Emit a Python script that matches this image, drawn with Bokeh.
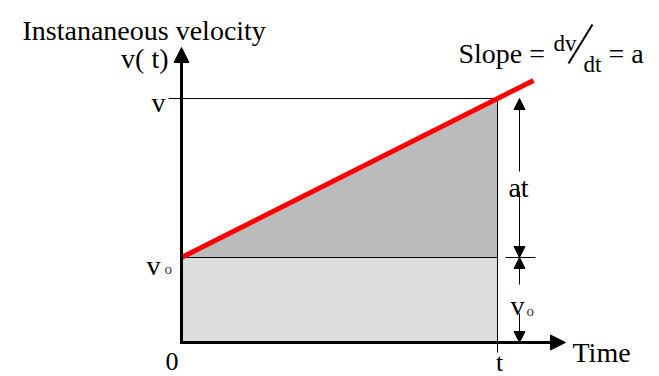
from bokeh.plotting import figure
from bokeh.models import Range1d, Arrow, NormalHead, Label
from bokeh.embed import file_html
from bokeh.resources import INLINE

# ---- data (uniform acceleration) ----
t_end = 1.0          # time t
v0 = 1.0             # initial velocity
a = 1.87             # acceleration (slope)
v_end = v0 + a * t_end
red_t = [0.0, 1.114]                  # red v(t) line extends slightly past t
red_v = [v0 + a * tt for tt in red_t]
axis_t_max = 1.215
axis_v_max = 3.47

title_text = "Instananeous velocity"
y_label = "v( t)"
x_label = "Time"

# ---- layout ----
W, H = 659, 376
OX, OY = 181, 342        # page pixel of origin
SX = 316 / t_end         # px per time unit
SY = 85 / v0             # px per velocity unit


def X(px):
    return (px - OX) / SX


def Y(py):
    return (OY - py) / SY


p = figure(width=W, height=H, x_range=Range1d(X(0), X(W)), y_range=Range1d(Y(H), Y(0)),
           toolbar_location=None, output_backend="svg", x_axis_type=None, y_axis_type=None,
           min_border=0)
p.grid.visible = False
p.outline_line_color = None
p.background_fill_color = "white"
p.border_fill_color = "white"

# fills
p.quad(left=[0], right=[t_end], bottom=[0], top=[v0], fill_color="#dddddd", line_color=None)
p.patch([0, t_end, t_end], [v0, v_end, v0], fill_color="#bbbbbb", line_color=None)

# thin guide lines
p.line([0, t_end], [v0, v0], line_color="black", line_width=1)
p.line([X(168), t_end], [v_end, v_end], line_color="black", line_width=1)
p.line([t_end, t_end], [Y(352), v_end], line_color="black", line_width=1)

# red velocity line
p.line(red_t, red_v, line_color="#ff0000", line_width=5)

# axes with arrows
p.add_layout(Arrow(end=NormalHead(size=15, fill_color="black", line_color="black", line_width=1),
                   x_start=0, y_start=Y(OY + 1), x_end=0, y_end=axis_v_max,
                   line_width=3, line_color="black"))
p.add_layout(Arrow(end=NormalHead(size=15, fill_color="black", line_color="black", line_width=1),
                   x_start=X(OX - 1.5), y_start=0, x_end=axis_t_max, y_end=0,
                   line_width=3, line_color="black"))

# dimension arrows
dim_x = X(519)


def head():
    return NormalHead(size=11, fill_color="black", line_color="black", line_width=1)


p.add_layout(Arrow(end=head(), x_start=dim_x, y_start=Y(171), x_end=dim_x, y_end=v_end,
                   line_width=1, line_color="black"))
p.add_layout(Arrow(end=head(), x_start=dim_x, y_start=Y(191), x_end=dim_x, y_end=v0,
                   line_width=1, line_color="black"))
p.add_layout(Arrow(end=head(), x_start=dim_x, y_start=Y(284), x_end=dim_x, y_end=v0,
                   line_width=1, line_color="black"))
p.add_layout(Arrow(end=head(), x_start=dim_x, y_start=Y(313), x_end=dim_x, y_end=0,
                   line_width=1, line_color="black"))
p.line([X(505), X(535)], [v0, v0], line_color="black", line_width=1)

# slash of dv/dt
p.line([X(568), X(592)], [Y(63), Y(24)], line_color="black", line_width=2)

FONT = "'Liberation Serif', 'Times New Roman', serif"


def lab(text, px, py, size=28, align="left", color="black"):
    p.add_layout(Label(x=X(px), y=Y(py), text=text, text_font=FONT, text_font_size=f"{size}px",
                       text_align=align, text_baseline="alphabetic", text_color=color))


lab(title_text, 22, 30)
lab(y_label, 168, 58, align="right")
lab("v", 165, 102, align="right")
lab("v", 160, 265, align="right")
lab("o", 164, 268, size=15, color="#333333")
lab("0", 171.5, 361, size=26, align="center")
lab("t", 499, 362, size=26, align="center")
lab(x_label, 572, 352)
lab("at", 518, 187, align="center")
lab("v", 510, 305)
lab("o", 526, 310, size=15, color="#333333")
lab("Slope =", 458, 53)
lab("dv", 553, 43, size=23)
lab("dt", 583, 64, size=23)
lab("= a", 608, 53)

open("out.html", "w").write(file_html(p, INLINE))
